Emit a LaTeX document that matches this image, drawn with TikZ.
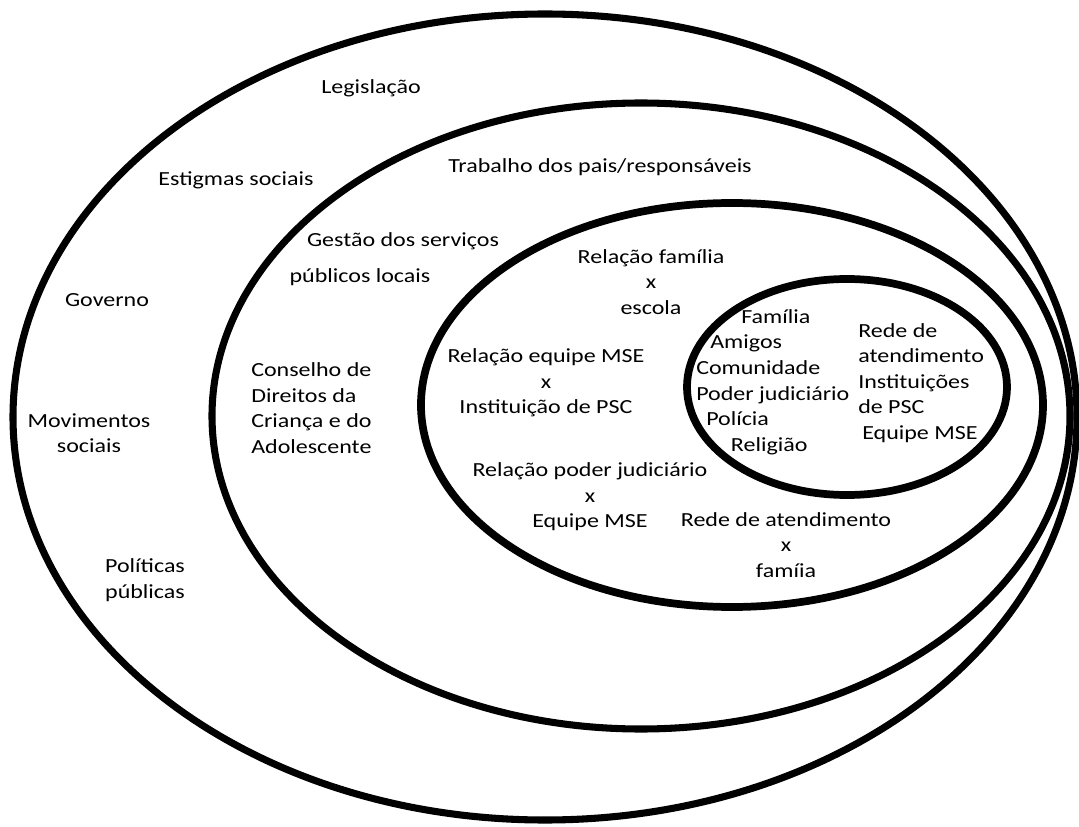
\documentclass[tikz,border=0pt]{standalone}
\usepackage{fontspec}
\setmainfont{Carlito}[FakeStretch=1.2]
\begin{document}
\begin{tikzpicture}[x=0.75pt,y=-0.75pt,
  ring/.style={draw=black,line width=5.3pt},
  lbl/.style={inner sep=0pt,text=black,font=\fontsize{15}{19.2}\selectfont},
  lblc/.style={lbl,align=center},
  lbll/.style={lbl,align=left,anchor=west}]
\clip (0,0) rectangle (1079,827);
\fill[white] (0,0) rectangle (1079,827);
% rings
\draw[ring] (545,417) ellipse [x radius=399pt, y radius=302.25pt];
\draw[ring] (641,416) ellipse [x radius=321.75pt, y radius=234.75pt];
\draw[ring,line width=5.8pt] (732,405) ellipse [x radius=233.25pt, y radius=151.5pt];
\draw[ring,line width=5.8pt] (847,387) ellipse [x radius=120pt, y radius=81pt];
% outer ring labels
\node[lblc] (leg) at (371,88) {Legislação};
\node[lblc] (est) at (236,180) {Estigmas sociais};
\node[lblc] (gov) at (107,300) {Governo};
\node[lblc] (mov) at (89,433) {Movimentos\\sociais};
\node[lblc] (pol) at (145,580) {Políticas\\públicas};
% second ring labels
\node[lblc] (trab) at (600,167) {Trabalho dos pais/responsáveis};
\node[lblc] (gest) at (403,241) {Gestão dos serviços};
\node[lblc] (publ) at (360,277) {públicos locais};
\node[lbll] (cons) at (251,408) {Conselho de\\Direitos da\\Criança e do\\Adolescente};
% third ring labels
\node[lblc] (rfe) at (651,282) {Relação família\\x\\escola};
\node[lblc] (rem) at (546,383) {Relação equipe MSE\\x\\Instituição de PSC};
\node[lblc] (rpj) at (590,497) {Relação poder judiciário\\x\\Equipe MSE};
\node[lblc] (raf) at (786,545) {Rede de atendimento\\x\\famíia};
% inner ring labels
\node[lbll] (inl) at (696,382) {\hspace*{33.75pt}Família\\\hspace*{10.5pt}Amigos\\Comunidade\\Poder judiciário\\\hspace*{7.5pt}Polícia\\\hspace*{26pt}Religião};
\node[lbll] (inr) at (858,383) {Rede de\\atendimento\\Instituições\\de PSC\\\hspace*{3pt}Equipe MSE};
\end{tikzpicture}
\end{document}
